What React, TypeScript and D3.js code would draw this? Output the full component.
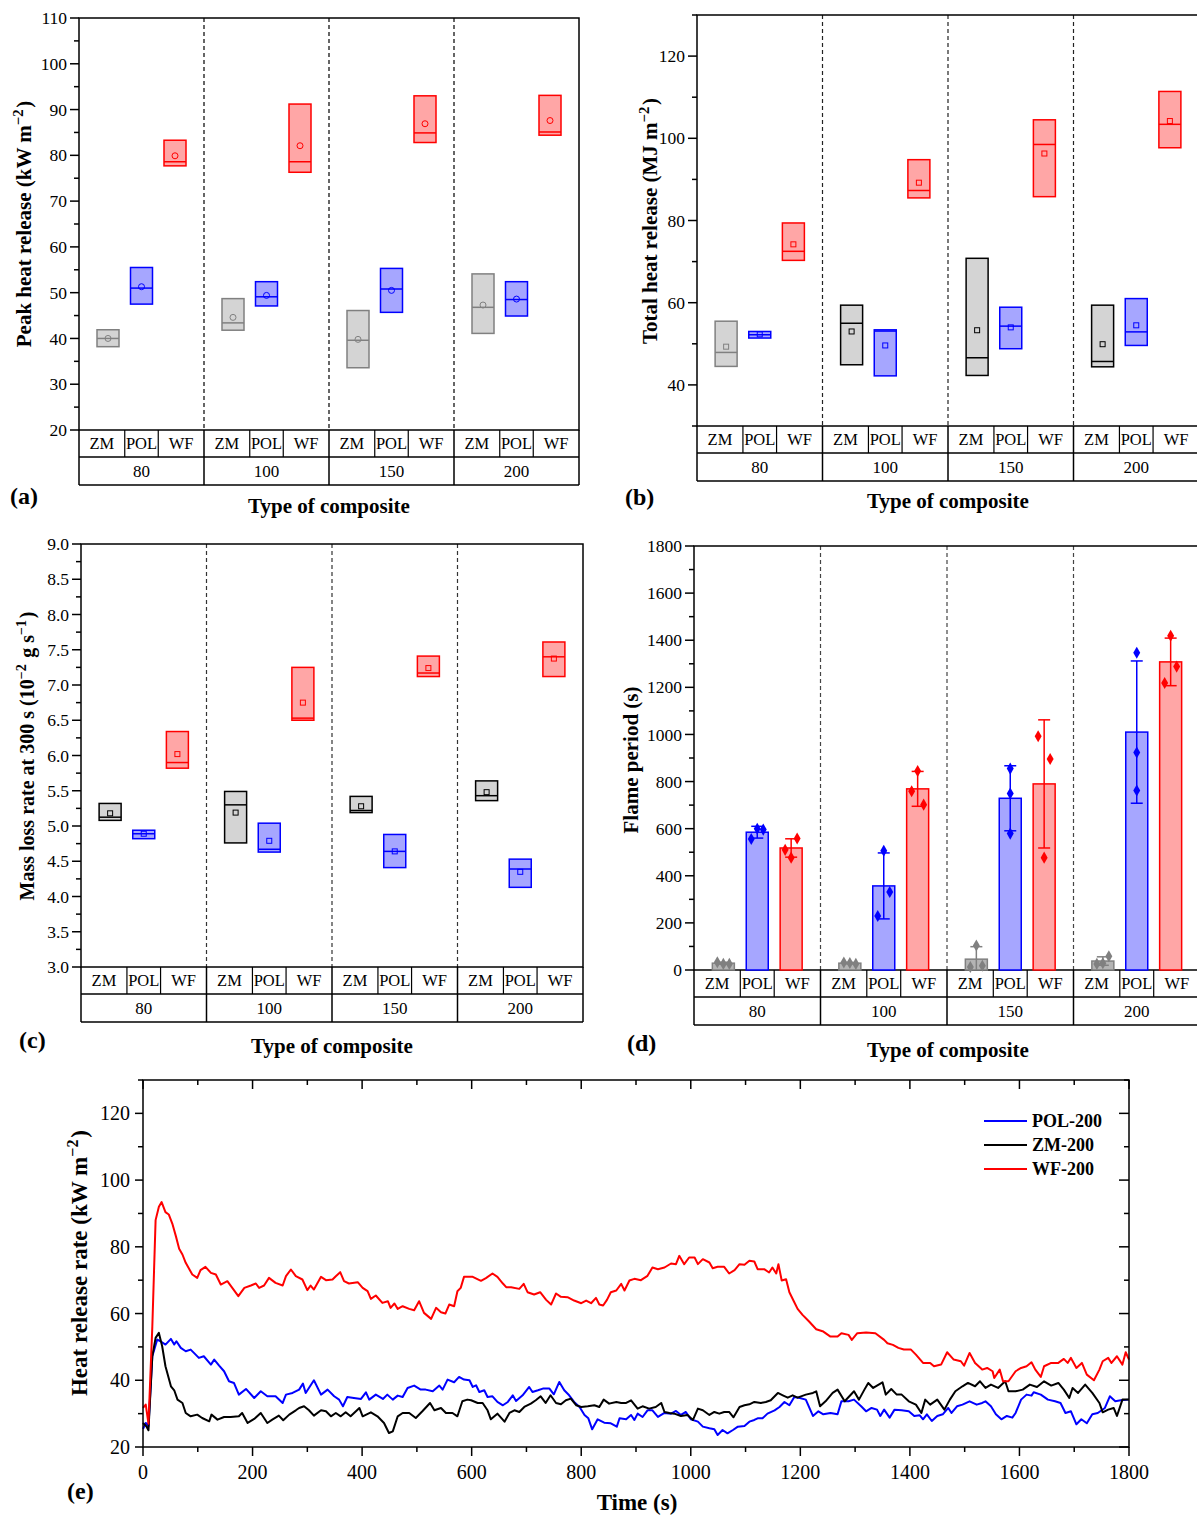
import React from 'react';
import * as d3 from 'd3';

const FONT = '"Liberation Serif", "Times New Roman", Times, serif';

const groups = ['80', '100', '150', '200'];
const types = ['ZM', 'POL', 'WF'];

// (a) peak heat release, kW m-2 : box bottom / top / median / mean
const phrLow = { ZM: [38.2, 41.8, 33.6, 41.1], POL: [47.5, 47.1, 45.7, 44.9], WF: [77.7, 76.3, 82.8, 84.4] };
const phrHigh = { ZM: [41.9, 48.7, 46.1, 54.1], POL: [55.5, 52.4, 55.3, 52.4], WF: [83.3, 91.2, 93.0, 93.1] };
const phrMedian = { ZM: [40.0, 43.4, 39.6, 46.8], POL: [51.0, 49.1, 50.8, 48.5], WF: [78.6, 78.6, 84.9, 85.1] };
const phrMean = { ZM: [40.0, 44.6, 39.8, 47.3], POL: [51.3, 49.4, 50.5, 48.6], WF: [79.9, 82.1, 86.9, 87.6] };

// (b) total heat release, MJ m-2
const thrLow = { ZM: [44.5, 44.9, 42.3, 44.4], POL: [51.4, 42.2, 48.8, 49.6], WF: [70.3, 85.5, 85.8, 97.7] };
const thrHigh = { ZM: [55.5, 59.4, 70.8, 59.4], POL: [53.0, 53.4, 58.9, 61.0], WF: [79.4, 94.8, 104.5, 111.4] };
const thrMedian = { ZM: [47.9, 55.0, 46.6, 45.7], POL: [52.2, 53.1, 54.3, 52.9], WF: [72.5, 87.3, 98.5, 103.4] };
const thrMean = { ZM: [49.3, 53.0, 53.3, 49.9], POL: [52.3, 49.6, 54.0, 54.5], WF: [74.2, 89.2, 96.3, 104.2] };

// (c) mass loss rate at 300 s, 10^-2 g s-1
const mlrLow = { ZM: [5.08, 4.76, 5.19, 5.36], POL: [4.82, 4.63, 4.41, 4.13], WF: [5.82, 6.50, 7.12, 7.12] };
const mlrHigh = { ZM: [5.32, 5.49, 5.42, 5.64], POL: [4.94, 5.04, 4.88, 4.53], WF: [6.34, 7.25, 7.41, 7.61] };
const mlrMedian = { ZM: [5.125, 5.30, 5.22, 5.43], POL: [4.89, 4.67, 4.64, 4.39], WF: [5.90, 6.53, 7.17, 7.40] };
const mlrMean = { ZM: [5.18, 5.19, 5.28, 5.48], POL: [4.89, 4.79, 4.64, 4.35], WF: [6.02, 6.75, 7.24, 7.375] };

// (d) flame period, s
const fpMean = { ZM: [29, 29, 46, 38], POL: [585, 357, 729, 1010], WF: [518, 769, 790, 1308] };
const fpSd = { ZM: [4, 3, 53, 18], POL: [25, 140, 138, 302], WF: [39, 74, 272, 101] };
const fpPoints = {
  ZM: [[33, 26, 26], [32, 30, 26], [13, 104, 18], [26, 29, 58]],
  POL: [[556, 600, 596], [229, 506, 331], [579, 749, 855], [1347, 923, 762]],
  WF: [[510, 477, 558], [759, 845, 702], [992, 477, 896], [1218, 1419, 1288]],
};

// (e) heat release rate curves, [time s, kW m-2]
const hrrPOL = [[0,25.4],[5,27.2],[10,26.2],[17,47.2],[26,52.2],[32,51.7],[41,50.7],[51,52.4],[57,50.7],[61,51.7],[69,49.7],[78,48.7],[87,49.2],[93,48.2],[102,46.7],[111,47.2],[124,44.7],[130,46.2],[139,44.4],[148,42.7],[157,39.7],[166,39.2],[175,35.7],[188,37.4],[203,34.7],[215,36.7],[227,35.2],[242,35.2],[255,33.2],[261,35.7],[273,36.2],[285,37.2],[292,39],[297,36.2],[312,40],[325,35.7],[337,37.2],[349,35.2],[358,34.2],[365,32.2],[373,35],[385,34.7],[398,34.4],[407,36.4],[413,34.2],[425,35.7],[438,34.4],[446,35.7],[456,34.2],[465,35.4],[474,35],[483,37.7],[495,38.4],[507,37.2],[516,37.2],[529,36.7],[541,38.4],[547,37.2],[556,40.2],[568,39.4],[577,41],[586,40.2],[596,40],[602,38],[608,38.5],[614,36.5],[623,37],[629,35],[638,35.2],[647,33.5],[657,32.5],[666,33.5],[675,35.5],[681,33.8],[693,35.5],[705,38],[711,36.5],[721,37],[730,37.5],[742,37.5],[750,35.8],[760,39.5],[769,37],[778,35.5],[787,33.5],[797,32],[806,29.6],[813,28.6],[820,25.3],[830,28.3],[842,27.3],[854,27.1],[865,26.1],[870,28.6],[882,28.3],[891,29.6],[897,28.1],[903,30],[912,29],[921,31],[930,31],[940,29],[952,30.2],[964,30],[973,30.8],[982,29.6],[991,30.5],[1000,28.3],[1013,27.6],[1022,26.1],[1034,25.6],[1043,25.3],[1049,23.6],[1058,25.1],[1067,24.1],[1077,25.1],[1086,26.1],[1098,26.3],[1107,27.6],[1116,28.1],[1122,28.6],[1131,28.6],[1140,30],[1153,31],[1162,32],[1171,33.5],[1180,32.5],[1189,35],[1199,34.7],[1210,34.2],[1223,29.3],[1233,30.7],[1242,29.8],[1255,30.2],[1268,29.8],[1275,33.7],[1288,33.7],[1298,34.2],[1311,32.2],[1320,30.7],[1330,31.7],[1340,31.2],[1346,29.3],[1353,31.2],[1363,28.8],[1372,31.2],[1385,31],[1398,30.7],[1408,29.3],[1418,29.5],[1424,28.3],[1431,29.8],[1440,27.8],[1450,29.3],[1460,29.8],[1470,31.7],[1476,30.2],[1486,32.2],[1496,32.7],[1509,33.7],[1522,32.7],[1532,33.2],[1538,33.7],[1548,32.2],[1557,29.8],[1567,28.3],[1577,29.3],[1587,28.8],[1593,30.2],[1603,34.2],[1613,35.7],[1622,35.4],[1626,36.4],[1639,35.7],[1652,34.2],[1665,33.7],[1675,33.2],[1684,30.2],[1694,30.7],[1704,26.8],[1713,28.3],[1723,27.1],[1733,29.8],[1743,30.2],[1756,31.7],[1765,35.2],[1775,33.7],[1785,34],[1800,34.2]];
const hrrZM = [[0,27.2],[6,26.2],[10,25],[17,47.2],[23,52.7],[29,54.2],[35,50.2],[41,44.2],[51,38.2],[57,37],[63,34.2],[72,33.2],[78,30.2],[87,29.2],[99,29.7],[108,28.7],[121,27.7],[125,29.7],[136,28.2],[148,29],[160,29],[175,29.2],[181,30.2],[191,27.2],[203,28.4],[215,30.2],[227,27.2],[236,28.2],[248,29.4],[256,28],[267,29.7],[279,31],[285,31.7],[294,32.2],[303,31],[312,29.4],[325,31],[334,30.7],[343,29.2],[352,30.2],[361,29.2],[370,30.4],[379,29.2],[395,31.7],[401,29.2],[416,30.4],[428,29.2],[440,27.2],[449,24.2],[456,24.7],[465,29.2],[474,30.2],[486,30.2],[498,28.7],[510,30.7],[524,33.2],[532,31],[544,31.7],[553,30.2],[565,30.2],[574,29.2],[583,33.7],[592,34.2],[599,34],[611,33.2],[620,33.2],[629,31],[635,28.3],[647,30],[660,27.6],[669,30.2],[678,31],[687,30.5],[696,32],[708,33],[717,34],[726,35.2],[735,33.2],[744,35.5],[754,33.2],[763,32.8],[772,34],[781,34.5],[791,32.5],[800,32],[812,32.2],[824,32.5],[833,32],[841,34.2],[851,33],[864,33.5],[873,33.2],[882,33.2],[891,34],[903,31.5],[912,32.2],[924,31.5],[936,32],[946,33.2],[952,30.5],[961,30.2],[970,30],[982,29.3],[994,29.6],[1004,28.1],[1013,31.5],[1022,31],[1034,29.6],[1043,30.5],[1052,30],[1061,30.5],[1070,30.5],[1078,28.9],[1089,32],[1098,32.5],[1107,32.8],[1116,33.5],[1128,33.2],[1137,33.5],[1146,34],[1159,36.2],[1168,35.5],[1177,34.8],[1186,35.5],[1195,34.8],[1210,35.7],[1223,36.2],[1229,36.7],[1236,32.2],[1246,33.7],[1259,36.2],[1268,37.2],[1281,33.7],[1298,36.7],[1307,34.2],[1317,37.2],[1324,39.2],[1333,37.7],[1350,39.4],[1356,35.7],[1366,37.4],[1376,35.7],[1385,35.7],[1398,33.7],[1411,32.7],[1421,30.2],[1428,34.2],[1437,32.7],[1450,34.2],[1463,31.2],[1473,34.2],[1483,36.7],[1496,38.2],[1506,39.2],[1519,38.2],[1528,39.7],[1538,37.7],[1548,38.7],[1561,37.7],[1574,39.7],[1580,36.7],[1593,36.7],[1606,37.2],[1619,38.7],[1632,38],[1645,39.7],[1658,38.4],[1671,39.2],[1681,37.2],[1691,34.7],[1697,37.7],[1707,36.2],[1720,38.7],[1733,36.2],[1746,33.2],[1752,30.4],[1762,31.2],[1772,31.7],[1778,29.3],[1788,34.2],[1800,34.2]];
const hrrWF = [[0,31.7],[5,32.7],[10,27],[17,56],[23,88],[29,92],[34,93.4],[41,90.4],[47,89.7],[54,86.7],[60,83.2],[66,79.4],[72,77.7],[78,75.2],[90,71.7],[99,70.7],[105,73],[114,74],[124,72.2],[133,71.7],[142,68.7],[154,69.7],[163,67.7],[174,65.2],[185,67.7],[197,68.4],[206,69],[212,67.7],[221,68.4],[230,70.7],[242,69.2],[255,68.4],[261,71.2],[270,73.2],[279,71.2],[291,70.2],[300,67],[306,68.4],[312,67.2],[325,71],[334,70],[346,70.2],[352,71.2],[360,72.4],[367,69.7],[376,69],[392,69.4],[401,67.7],[410,66.7],[416,64.4],[425,65.4],[437,63.2],[447,63.7],[452,61.7],[459,63],[465,61.4],[474,62.2],[486,61.4],[495,61],[504,63.7],[513,60.2],[526,58.4],[535,61.7],[544,60.4],[552,60],[559,62.7],[568,62.2],[574,66.7],[580,67.7],[586,71],[602,71],[617,69.8],[626,70.6],[638,72],[647,71],[657,69],[663,67.9],[672,67.9],[687,67.4],[695,68.9],[702,66.4],[714,65.7],[725,66.4],[736,64.1],[745,62.7],[754,66],[763,65],[775,64.9],[787,63.9],[800,63.1],[809,63.9],[818,63.1],[827,64.7],[833,62.7],[840,62.4],[847,64.1],[854,66.4],[864,66.9],[873,68.9],[879,66.9],[888,69.9],[897,70.4],[909,70],[921,71.3],[930,73.8],[940,73.3],[952,73.8],[964,75],[973,74.8],[979,77.3],[988,74.8],[997,76.8],[1007,76.8],[1013,74.8],[1022,76.3],[1034,75.3],[1040,73.6],[1049,74],[1061,74],[1070,72],[1080,73],[1089,74.8],[1098,74.6],[1107,75.8],[1116,75.6],[1122,73.3],[1134,73.3],[1143,72.3],[1149,73.8],[1156,72],[1160,74.8],[1166,69.9],[1174,70.3],[1180,66.4],[1189,63.4],[1195,61.4],[1204,59.6],[1216,57.6],[1229,55.3],[1242,54.6],[1255,53.1],[1268,53.1],[1275,54.1],[1288,53.6],[1294,52.1],[1304,54.1],[1320,54.3],[1337,54.1],[1353,52.1],[1359,51.1],[1369,50.6],[1379,49.7],[1389,49.2],[1402,49.2],[1411,47.7],[1424,45.2],[1437,45.2],[1444,44.2],[1457,44.7],[1468,48.4],[1480,46.2],[1493,45.7],[1499,44.4],[1509,48.2],[1519,45.2],[1532,43.2],[1541,43.7],[1551,42.7],[1554,40.7],[1564,43.2],[1570,39.7],[1580,39.7],[1593,42.7],[1603,43.7],[1613,44.2],[1622,45.4],[1629,43.2],[1639,41],[1645,44.2],[1658,45.2],[1671,45.2],[1681,46.4],[1688,45.2],[1694,46.7],[1704,43.7],[1714,45.2],[1723,41.7],[1736,40],[1746,43.2],[1752,45.7],[1762,46.7],[1768,45.2],[1778,47.2],[1788,44.7],[1794,48.4],[1800,46.2]];

const palette = {
  ZM: { stroke: '#808080', fill: '#d4d4d4' },
  POL: { stroke: '#0000ff', fill: '#a6a6ff' },
  WF: { stroke: '#ff0000', fill: '#ffa6a6' },
};

const range = (a, b, step) => d3.range(a, b + step / 2, step);

// superscript helper for rotated / normal titles
const Sup = ({ t, size }) => (
  <>
    <tspan dy={-size * 0.4} fontSize={size * 0.7}>{t}</tspan>
    <tspan dy={size * 0.4} fontSize={size}>{'\u200a'}</tspan>
  </>
);

// y axis, frame, dashed separators and the two-row category table
function CategoryFrame({ x0, x1, yTop, yBottom, y, ticks, minor, fmt, dashColor }) {
  const gx = d3.scaleBand().domain(groups).range([x0, x1]);
  const w = gx.bandwidth();
  const edges = [0.366 * w, 0.634 * w];
  const labelX = [0.183 * w, 0.5 * w, 0.817 * w];
  const r1 = yBottom + 27;
  const r2 = r1 + 28;
  return (
    <g fontFamily={FONT} fill="#000">
      {minor.map(v => (
        <line key={'m' + v} x1={x0 - 5} x2={x0} y1={y(v)} y2={y(v)} stroke="#000" strokeWidth={1.5} />
      ))}
      {ticks.map(v => (
        <g key={'t' + v}>
          <line x1={x0 - 9} x2={x0} y1={y(v)} y2={y(v)} stroke="#000" strokeWidth={1.5} />
          <text x={x0 - 12} y={y(v)} dy="0.35em" textAnchor="end" fontSize={17.5}>{fmt(v)}</text>
        </g>
      ))}
      {groups.slice(1).map(g => (
        <line key={'d' + g} x1={gx(g)} x2={gx(g)} y1={yTop} y2={yBottom} stroke={dashColor} strokeWidth={1.2} strokeDasharray="4,3" />
      ))}
      <rect x={x0} y={yTop} width={x1 - x0} height={yBottom - yTop} fill="none" stroke="#000" strokeWidth={1.5} />
      <line x1={x0} x2={x1} y1={r1} y2={r1} stroke="#000" strokeWidth={1.5} />
      <line x1={x0} x2={x1} y1={r2} y2={r2} stroke="#000" strokeWidth={1.5} />
      {[x0, x1].map((xv, i) => (
        <line key={'b' + i} x1={xv} x2={xv} y1={yBottom} y2={r2} stroke="#000" strokeWidth={1.5} />
      ))}
      {groups.slice(1).map(g => (
        <line key={'s' + g} x1={gx(g)} x2={gx(g)} y1={yBottom} y2={r2} stroke="#000" strokeWidth={1.5} />
      ))}
      {groups.map(g => edges.map((e, i) => (
        <line key={g + 'e' + i} x1={gx(g) + e} x2={gx(g) + e} y1={yBottom} y2={r1} stroke="#000" strokeWidth={1.2} />
      )))}
      {groups.map(g => types.map((t, i) => (
        <text key={g + t} x={gx(g) + labelX[i]} y={(yBottom + r1) / 2} dy="0.35em" textAnchor="middle" fontSize={16.5}>{t}</text>
      )))}
      {groups.map(g => (
        <text key={'g' + g} x={gx(g) + w / 2} y={(r1 + r2) / 2} dy="0.35em" textAnchor="middle" fontSize={17}>{g}</text>
      ))}
    </g>
  );
}

function boxCenters(x0, x1) {
  const gx = d3.scaleBand().domain(groups).range([x0, x1]);
  const w = gx.bandwidth();
  const cx = d3.scalePoint().domain(types).range([0.232 * w, 0.768 * w]);
  return (g, t) => gx(g) + cx(t);
}

function BoxPanel({ x0, x1, yTop, yBottom, domain, ticks, minor, fmt, low, high, median, mean, zmStroke, marker, dashColor }) {
  const y = d3.scaleLinear().domain(domain).range([yBottom, yTop]);
  const cx = boxCenters(x0, x1);
  const bw = 22;
  return (
    <g>
      <CategoryFrame x0={x0} x1={x1} yTop={yTop} yBottom={yBottom} y={y} ticks={ticks} minor={minor} fmt={fmt} dashColor={dashColor} />
      {groups.map((g, gi) => types.map(t => {
        const c = cx(g, t);
        const stroke = t === 'ZM' ? zmStroke[gi] : palette[t].stroke;
        const top = y(high[t][gi]);
        const bot = y(low[t][gi]);
        const my = y(mean[t][gi]);
        return (
          <g key={g + t}>
            <rect x={c - bw / 2} y={top} width={bw} height={bot - top} fill={palette[t].fill} stroke={stroke} strokeWidth={1.5} />
            <line x1={c - bw / 2} x2={c + bw / 2} y1={y(median[t][gi])} y2={y(median[t][gi])} stroke={stroke} strokeWidth={1.5} />
            {marker === 'circle'
              ? <circle cx={c} cy={my} r={3} fill="none" stroke={stroke} strokeWidth={1} />
              : <rect x={c - 2.5} y={my - 2.5} width={5} height={5} fill="none" stroke={stroke} strokeWidth={1} />}
          </g>
        );
      }))}
    </g>
  );
}

const zmBarStyle = { stroke: '#808080', fill: '#b4b4b4' };
const jitter = [-6, 0, 6];
const alignedCells = ['POL-150', 'POL-200'];

function BarPanel({ x0, x1, yTop, yBottom }) {
  const y = d3.scaleLinear().domain([0, 1800]).range([yBottom, yTop]);
  const cx = boxCenters(x0, x1);
  const bw = 22;
  const diamond = d3.symbol().type(d3.symbolDiamond).size(42)();
  return (
    <g>
      <CategoryFrame x0={x0} x1={x1} yTop={yTop} yBottom={yBottom} y={y} ticks={range(0, 1800, 200)} minor={range(100, 1700, 200)} fmt={d3.format('d')} dashColor="#444" />
      {groups.map((g, gi) => types.map(t => {
        const c = cx(g, t);
        const st = t === 'ZM' ? zmBarStyle : palette[t];
        const m = fpMean[t][gi];
        const sd = fpSd[t][gi];
        const yHi = y(m + sd);
        const yLo = y(Math.max(0, m - sd));
        const aligned = alignedCells.includes(t + '-' + g);
        return (
          <g key={g + t}>
            <rect x={c - bw / 2} y={y(m)} width={bw} height={yBottom - y(m)} fill={st.fill} stroke={st.stroke} strokeWidth={1.5} />
            <line x1={c} x2={c} y1={yHi} y2={yLo} stroke={st.stroke} strokeWidth={1.5} />
            <line x1={c - 6} x2={c + 6} y1={yHi} y2={yHi} stroke={st.stroke} strokeWidth={1.5} />
            {m - sd > 0 && <line x1={c - 6} x2={c + 6} y1={yLo} y2={yLo} stroke={st.stroke} strokeWidth={1.5} />}
            {fpPoints[t][gi].map((v, i) => (
              <path key={i} d={diamond} transform={`translate(${c + (aligned ? 0 : jitter[i])},${y(v)})`} fill={st.stroke} />
            ))}
          </g>
        );
      }))}
    </g>
  );
}

function LinePanel({ x0, x1, yTop, yBottom }) {
  const x = d3.scaleLinear().domain([0, 1800]).range([x0, x1]);
  const y = d3.scaleLinear().domain([20, 130]).range([yBottom, yTop]);
  const line = d3.line().x(d => x(d[0])).y(d => y(d[1]));
  const series = [
    { name: 'POL-200', data: hrrPOL, color: '#0000ff' },
    { name: 'ZM-200', data: hrrZM, color: '#000000' },
    { name: 'WF-200', data: hrrWF, color: '#ff0000' },
  ];
  return (
    <g fontFamily={FONT}>
      {series.map(s => (
        <path key={s.name} d={line(s.data)} fill="none" stroke={s.color} strokeWidth={2} strokeLinejoin="round" />
      ))}
      <rect x={x0} y={yTop} width={x1 - x0} height={yBottom - yTop} fill="none" stroke="#000" strokeWidth={1.5} />
      {range(0, 1800, 100).map((v, i) => {
        const len = i % 2 === 0 ? 9 : 5;
        return (
          <g key={'x' + v}>
            <line x1={x(v)} x2={x(v)} y1={yBottom} y2={yBottom + len} stroke="#000" strokeWidth={1.5} />
            <line x1={x(v)} x2={x(v)} y1={yTop} y2={yTop + len} stroke="#000" strokeWidth={1.5} />
            {i % 2 === 0 && <text x={x(v)} y={yBottom + 32} textAnchor="middle" fontSize={20}>{v}</text>}
          </g>
        );
      })}
      {range(20, 130, 10).map((v, i) => {
        const major = i % 2 === 0;
        return (
          <g key={'y' + v}>
            <line x1={x0 - (major ? 8 : 5)} x2={x0} y1={y(v)} y2={y(v)} stroke="#000" strokeWidth={1.5} />
            <line x1={x1 - (major ? 10 : 5)} x2={x1} y1={y(v)} y2={y(v)} stroke="#000" strokeWidth={1.5} />
            {major && <text x={x0 - 13} y={y(v)} dy="0.35em" textAnchor="end" fontSize={20}>{v}</text>}
          </g>
        );
      })}
      {series.map((s, i) => (
        <g key={'l' + s.name} transform={`translate(984,${1121 + i * 24})`}>
          <line x1={0} x2={43} y1={0} y2={0} stroke={s.color} strokeWidth={2} />
          <text x={48} y={0} dy="0.35em" fontSize={18} fontWeight="bold">{s.name}</text>
        </g>
      ))}
    </g>
  );
}

const zmStrokeA = ['#808080', '#808080', '#808080', '#808080'];
const zmStrokeB = ['#808080', '#000000', '#000000', '#000000'];
const zmStrokeC = ['#000000', '#000000', '#000000', '#000000'];

export default function App() {
  const bold = { fontFamily: FONT, fontWeight: 'bold' };
  return (
    <svg width={1197} height={1515} style={{ position: 'absolute', left: 0, top: 0, background: '#fff' }}>
      <BoxPanel x0={79} x1={579} yTop={18} yBottom={430} domain={[20, 110]}
        ticks={range(20, 110, 10)} minor={range(25, 105, 10)} fmt={d3.format('d')}
        low={phrLow} high={phrHigh} median={phrMedian} mean={phrMean}
        zmStroke={zmStrokeA} marker="circle" dashColor="#000" />
      <BoxPanel x0={697} x1={1199} yTop={15} yBottom={426} domain={[30, 130]}
        ticks={range(40, 120, 20)} minor={range(30, 130, 20)} fmt={d3.format('d')}
        low={thrLow} high={thrHigh} median={thrMedian} mean={thrMean}
        zmStroke={zmStrokeB} marker="square" dashColor="#222" />
      <BoxPanel x0={81} x1={583} yTop={544} yBottom={967} domain={[3, 9]}
        ticks={range(3, 9, 0.5)} minor={range(3.25, 8.75, 0.5)} fmt={d3.format('.1f')}
        low={mlrLow} high={mlrHigh} median={mlrMedian} mean={mlrMean}
        zmStroke={zmStrokeC} marker="square" dashColor="#333" />
      <BarPanel x0={694} x1={1200} yTop={546} yBottom={970} />
      <LinePanel x0={143} x1={1129} yTop={1080} yBottom={1447} />

      <g style={bold} fill="#000">
        <text x={10} y={504} fontSize={24}>(a)</text>
        <text x={625} y={505} fontSize={24}>(b)</text>
        <text x={19} y={1048} fontSize={24}>(c)</text>
        <text x={627} y={1051} fontSize={24}>(d)</text>
        <text x={67} y={1499} fontSize={24}>(e)</text>

        <text x={329} y={513} textAnchor="middle" fontSize={21}>Type of composite</text>
        <text x={948} y={508} textAnchor="middle" fontSize={21}>Type of composite</text>
        <text x={332} y={1053} textAnchor="middle" fontSize={21}>Type of composite</text>
        <text x={948} y={1057} textAnchor="middle" fontSize={21}>Type of composite</text>
        <text x={637} y={1510} textAnchor="middle" fontSize={23}>Time (s)</text>

        <text transform="translate(31,224) rotate(-90)" textAnchor="middle" fontSize={21}>
          Peak heat release (kW m<Sup t={'\u22122'} size={21} />)
        </text>
        <text transform="translate(657,221) rotate(-90)" textAnchor="middle" fontSize={21}>
          Total heat release (MJ m<Sup t={'\u22122'} size={21} />)
        </text>
        <text transform="translate(34,756) rotate(-90)" textAnchor="middle" fontSize={20}>
          Mass loss rate at 300 s (10<Sup t={'\u22122'} size={20} /> g s<Sup t={'\u22121'} size={20} />)
        </text>
        <text transform="translate(638,760) rotate(-90)" textAnchor="middle" fontSize={21}>
          Flame period (s)
        </text>
        <text transform="translate(87,1263) rotate(-90)" textAnchor="middle" fontSize={23}>
          Heat release rate (kW m<Sup t={'\u22122'} size={23} />)
        </text>
      </g>
    </svg>
  );
}
